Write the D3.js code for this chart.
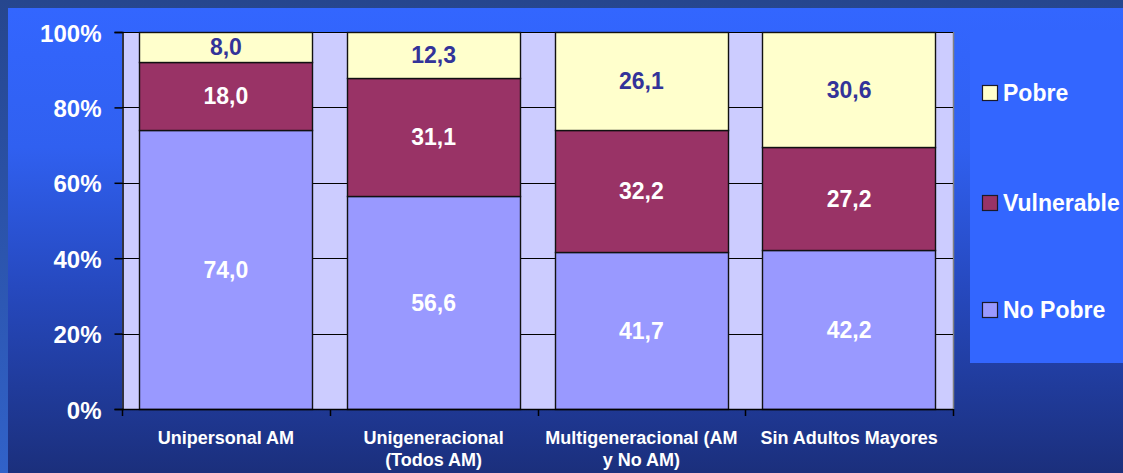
<!DOCTYPE html>
<html>
<head>
<meta charset="utf-8">
<script src="https://cdn.jsdelivr.net/npm/d3@7"></script>
<style>
  html, body { margin: 0; padding: 0; background: #1b2f7c; }
  svg { display: block; }
  text { font-family: "Liberation Sans", Arial, sans-serif; font-weight: bold; }
</style>
</head>
<body>
<svg id="chart" width="1123" height="473"></svg>
<script>
// ---- Data ----
const categories = ["Unipersonal AM", "Unigeneracional\n(Todos AM)", "Multigeneracional (AM\ny No AM)", "Sin Adultos Mayores"];
const seriesNames = ["No Pobre", "Vulnerable", "Pobre"];
const noPobre = [74.0, 56.6, 41.7, 42.2];
const vulnerable = [18.0, 31.1, 32.2, 27.2];
const pobre = [8.0, 12.3, 26.1, 30.6];
const yTickValues = [0, 20, 40, 60, 80, 100];
const legendOrder = ["Pobre", "Vulnerable", "No Pobre"];

// ---- Styles ----
const colors = { "No Pobre": "#9999ff", "Vulnerable": "#993366", "Pobre": "#ffffcc" };
const labelColors = { "No Pobre": "#ffffff", "Vulnerable": "#ffffff", "Pobre": "#333399" };

const W = 1123, H = 473;
const plot = { left: 122, right: 953, top: 32, bottom: 409 };

const svg = d3.select("#chart");
const defs = svg.append("defs");

const g1 = defs.append("linearGradient").attr("id", "outerGrad").attr("x1", 0).attr("y1", 0).attr("x2", 0).attr("y2", 1);
g1.append("stop").attr("offset", "0%").attr("stop-color", "#26468e");
g1.append("stop").attr("offset", "100%").attr("stop-color", "#3162c9");

const g2 = defs.append("linearGradient").attr("id", "innerGrad").attr("x1", 0).attr("y1", 0).attr("x2", 0).attr("y2", 1);
g2.append("stop").attr("offset", "0%").attr("stop-color", "#3366ff");
g2.append("stop").attr("offset", "30%").attr("stop-color", "#3060f0");
g2.append("stop").attr("offset", "60%").attr("stop-color", "#2649bf");
g2.append("stop").attr("offset", "100%").attr("stop-color", "#1b2f7c");

svg.append("rect").attr("x", 0).attr("y", 0).attr("width", W).attr("height", H).attr("fill", "url(#outerGrad)");
svg.append("rect").attr("x", 8).attr("y", 8).attr("width", W - 8).attr("height", H - 8).attr("fill", "url(#innerGrad)");

// ---- Scales ----
const x = d3.scaleBand().domain(categories).range([plot.left, plot.right]).paddingInner(0.164).paddingOuter(0.082);
const y = d3.scaleLinear().domain([0, 100]).range([plot.bottom, plot.top]);

// plot background
svg.append("rect").attr("x", plot.left).attr("y", plot.top)
  .attr("width", plot.right - plot.left).attr("height", plot.bottom - plot.top)
  .attr("fill", "#ccccff");
// right border
svg.append("line").attr("x1", plot.right + 0.5).attr("x2", plot.right + 0.5)
  .attr("y1", plot.top).attr("y2", plot.bottom).attr("stroke", "#808080").attr("stroke-width", 1.5);

// gridlines
svg.append("g").selectAll("line").data(yTickValues.filter(d => d > 0)).join("line")
  .attr("x1", plot.left).attr("x2", plot.right)
  .attr("y1", d => Math.round(y(d)) + 0.5).attr("y2", d => Math.round(y(d)) + 0.5)
  .attr("stroke", "#000").attr("stroke-width", 1);

// ---- Stacked bars ----
const rows = categories.map((c, i) => ({ cat: c, "No Pobre": noPobre[i], "Vulnerable": vulnerable[i], "Pobre": pobre[i] }));
const stacked = d3.stack().keys(seriesNames)(rows);
const fmt = v => d3.format(".1f")(v).replace(".", ",");

const layers = svg.append("g").selectAll("g").data(stacked).join("g")
  .attr("fill", d => colors[d.key]);
layers.selectAll("rect").data(d => d).join("rect")
  .attr("x", d => Math.round(x(d.data.cat)) + 0.5)
  .attr("width", Math.round(x.bandwidth()) - 1)
  .attr("y", d => Math.round(y(d[1])) + 0.5)
  .attr("height", d => Math.round(y(d[0])) - Math.round(y(d[1])))
  .attr("stroke", "#111").attr("stroke-width", 1.4);

// value labels
const labelG = svg.append("g");
stacked.forEach(layer => {
  labelG.selectAll(null).data(layer).join("text")
    .attr("x", d => x(d.data.cat) + x.bandwidth() / 2)
    .attr("y", d => (y(d[0]) + y(d[1])) / 2)
    .attr("dy", "0.36em")
    .attr("text-anchor", "middle")
    .attr("font-size", 23)
    .attr("fill", labelColors[layer.key])
    .text(d => fmt(d[1] - d[0]));
});

// ---- Axes ----
const yAxis = d3.axisLeft(y).tickValues(yTickValues).tickSize(8).tickPadding(13).tickFormat(d => d + "%");
const yg = svg.append("g").attr("transform", `translate(${plot.left + 0.5},0)`).call(yAxis);
yg.select(".domain").attr("stroke", "#000").attr("stroke-width", 1.5);
yg.selectAll(".tick line").attr("stroke", "#000").attr("stroke-width", 1.5);
yg.selectAll(".tick text").attr("fill", "#ffffff").attr("font-size", 24)
  .attr("font-family", "'Liberation Sans', Arial, sans-serif").attr("font-weight", "bold").attr("dy", "0.38em");

// x-axis line and category ticks
svg.append("line").attr("x1", plot.left).attr("x2", plot.right)
  .attr("y1", plot.bottom + 0.5).attr("y2", plot.bottom + 0.5).attr("stroke", "#000").attr("stroke-width", 1.5);
const boundaries = d3.range(categories.length + 1).map(i => plot.left + i * x.step());
svg.append("g").selectAll("line").data(boundaries).join("line")
  .attr("x1", d => Math.round(d) + 0.5).attr("x2", d => Math.round(d) + 0.5)
  .attr("y1", plot.bottom).attr("y2", plot.bottom + 7)
  .attr("stroke", "#000").attr("stroke-width", 1.5);

// category labels
const catG = svg.append("g").selectAll("text").data(categories).join("text")
  .attr("text-anchor", "middle")
  .attr("font-size", 18)
  .attr("fill", "#ffffff");
catG.each(function(c) {
  const t = d3.select(this);
  const cx = x(c) + x.bandwidth() / 2;
  c.split("\n").forEach((line, i) => {
    t.append("tspan").attr("x", cx).attr("y", 444 + i * 22).text(line);
  });
});

// ---- Legend ----
svg.append("rect").attr("x", 970).attr("y", 30).attr("width", W - 970).attr("height", 333)
  .attr("fill", "#3366ff");
const legendY = { "Pobre": 93, "Vulnerable": 203, "No Pobre": 310 };
const lg = svg.append("g").selectAll("g").data(legendOrder).join("g")
  .attr("transform", d => `translate(982,${legendY[d]})`);
lg.append("rect").attr("x", 0.5).attr("y", -7.5).attr("width", 15).attr("height", 15)
  .attr("fill", d => colors[d]).attr("stroke", "#1a1a2a").attr("stroke-width", 1.2);
lg.append("text").attr("x", 21).attr("y", 0).attr("dy", "0.36em")
  .attr("font-size", 23).attr("fill", "#ffffff").text(d => d);
</script>
</body>
</html>
